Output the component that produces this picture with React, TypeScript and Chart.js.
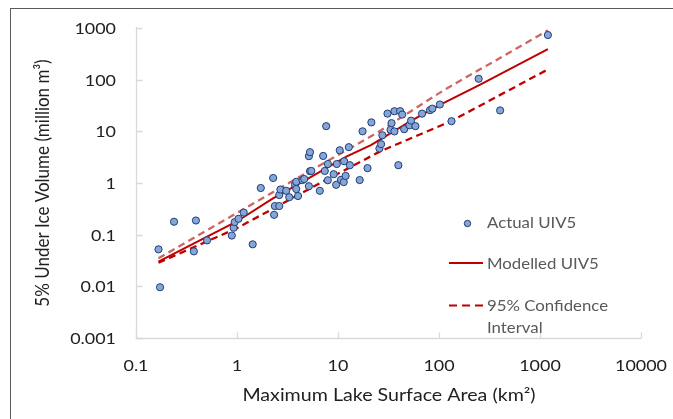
import { useEffect, useRef } from "react";
import { Chart, registerables } from "chart.js";

Chart.register(...registerables);

// ---- data ----
const areaKm2 = [
  0.167, 0.173, 0.238, 0.374, 0.392, 0.505, 0.888, 0.927, 0.949, 1.035,
  1.165, 1.43, 1.72, 2.28, 2.33, 2.37, 2.62, 2.62, 2.69, 3.07,
  3.29, 3.75, 3.86, 3.86, 4.02, 4.44, 4.63, 5.15, 5.15, 5.28,
  5.28, 5.44, 6.61, 7.13, 7.4, 7.64, 7.93, 7.94, 9.06, 9.59,
  9.73, 10.4, 10.7, 11.4, 11.5, 11.9, 12.8, 13.1, 16.4, 17.5,
  19.6, 21.4, 25.7, 26.7, 27.5, 30.9, 33.1, 33.9, 36.2, 36.2,
  39.6, 41.2, 43.2, 45.2, 51.0, 52.9, 58.4, 67.9, 81.5, 85.9,
  102, 133, 247, 403, 1197,
];
const volumeUIV5 = [
  0.052, 0.0096, 0.178, 0.0475, 0.188, 0.0776, 0.096, 0.136, 0.175, 0.203,
  0.268, 0.065, 0.8, 1.25, 0.242, 0.358, 0.358, 0.585, 0.748, 0.706,
  0.531, 0.927, 1.055, 0.765, 0.56, 1.14, 1.195, 0.867, 3.31, 3.95,
  1.69, 1.71, 0.706, 3.34, 1.71, 12.6, 1.13, 2.33, 1.48, 0.923,
  2.33, 4.3, 1.15, 1.04, 2.64, 1.37, 4.94, 2.21, 1.14, 10.0,
  1.94, 14.9, 4.66, 5.65, 8.4, 22.0, 10.7, 14.4, 24.5, 9.95,
  2.21, 24.6, 21.1, 11.0, 13.1, 16.1, 12.6, 22.0, 25.7, 27.5,
  33.1, 15.7, 104, 25.4, 731,
];

const modelX = [0.167, 0.986, 2.27, 4.18, 12.1, 21.4, 51.3, 102, 253, 1197];
const modelY = [0.03, 0.178, 0.505, 0.986, 3.24, 5.45, 15.4, 32.5, 79, 390];

const upperX = [0.167, 0.986, 4.18, 24.0, 110, 1197];
const upperY = [0.035, 0.259, 1.32, 9.18, 61.5, 900];

const lowerX = [0.167, 0.986, 2.65, 6.59, 25.9, 133, 1197];
const lowerY = [0.0286, 0.132, 0.375, 0.986, 4.05, 15.9, 158];

const xTicks = [0.1, 1, 10, 100, 1000, 10000];
const xTickLabels = ["0.1", "1", "10", "100", "1000", "10000"];
const yTicks = [0.001, 0.01, 0.1, 1, 10, 100, 1000];
const yTickLabels = ["0.001", "0.01", "0.1", "1", "10", "100", "1000"];

const xTitle = "Maximum Lake Surface Area (km\u00B2)";
const yTitle = "5% Under Ice Volume (million m\u00B3)";
const legendLabels = ["Actual UIV5", "Modelled UIV5", "95% Confidence", "Interval"];

const FONT = "Lato, 'Open Sans', sans-serif";
const POINT_FILL = "#86A6D8";
const POINT_EDGE = "#1F3F77";
const RED = "#C00000";
const LIGHT_RED = "#CF6464";
const STRETCH = 1.12;
const LEGEND_STRETCH = 1.05;

function stretchedText(ctx: any, text: string, x: number, y: number, sx: number) {
  ctx.save();
  ctx.translate(x, y);
  ctx.scale(sx, 1);
  ctx.fillText(text, 0, 0);
  ctx.restore();
}

const decorPlugin = {
  id: "decor",
  beforeDraw(chart: any) {
    const { ctx, chartArea, scales } = chart;
    const xs = scales.x;
    const ys = scales.y;
    ctx.save();
    ctx.fillStyle = "#ffffff";
    ctx.fillRect(0, 0, chart.width, chart.height);

    // outer frame
    ctx.strokeStyle = "#5a5a5a";
    ctx.lineWidth = 1;
    ctx.strokeRect(10.5, 8.5, chart.width + 20, chart.height + 20);

    // axes
    ctx.strokeStyle = "#D9D9D9";
    ctx.lineWidth = 1.3;
    const left = Math.round(chartArea.left) + 0.5;
    const bottom = Math.round(chartArea.bottom) + 0.5;
    ctx.beginPath();
    ctx.moveTo(left, ys.getPixelForValue(1000) - 1);
    ctx.lineTo(left, bottom);
    ctx.lineTo(xs.getPixelForValue(10000), bottom);
    ctx.stroke();
    ctx.beginPath();
    yTicks.forEach((v) => {
      const y = Math.round(ys.getPixelForValue(v)) + 0.5;
      ctx.moveTo(left, y);
      ctx.lineTo(left + 6, y);
    });
    xTicks.forEach((v) => {
      const x = Math.round(xs.getPixelForValue(v)) + 0.5;
      ctx.moveTo(x, bottom);
      ctx.lineTo(x, bottom - 6);
    });
    ctx.stroke();

    // tick labels
    ctx.fillStyle = "#1f1f1f";
    ctx.font = `16px ${FONT}`;
    ctx.textBaseline = "middle";
    ctx.textAlign = "right";
    yTicks.forEach((v, i) => {
      stretchedText(ctx, yTickLabels[i], 116, ys.getPixelForValue(v) + 1, STRETCH);
    });
    ctx.textAlign = "center";
    xTicks.forEach((v, i) => {
      stretchedText(ctx, xTickLabels[i], xs.getPixelForValue(v), 366, STRETCH);
    });

    // axis titles
    ctx.font = `17px ${FONT}`;
    ctx.fillStyle = "#1f1f1f";
    stretchedText(ctx, xTitle, 389, 396, 1.155);
    ctx.save();
    ctx.translate(43, 183);
    ctx.rotate(-Math.PI / 2);
    ctx.scale(1, 1.1);
    ctx.fillText(yTitle, 0, 0);
    ctx.restore();
    ctx.restore();
  },
  afterDraw(chart: any) {
    const { ctx } = chart;
    ctx.save();
    // legend
    ctx.beginPath();
    ctx.arc(467.5, 223.5, 3.2, 0, Math.PI * 2);
    ctx.fillStyle = POINT_FILL;
    ctx.fill();
    ctx.strokeStyle = POINT_EDGE;
    ctx.lineWidth = 1;
    ctx.stroke();

    ctx.strokeStyle = RED;
    ctx.lineWidth = 2;
    ctx.beginPath();
    ctx.moveTo(449, 263);
    ctx.lineTo(483, 263);
    ctx.stroke();

    ctx.setLineDash([8, 5]);
    ctx.lineWidth = 2.2;
    ctx.beginPath();
    ctx.moveTo(449, 305.5);
    ctx.lineTo(483, 305.5);
    ctx.stroke();
    ctx.setLineDash([]);

    ctx.fillStyle = "#595959";
    ctx.font = `16px ${FONT}`;
    ctx.textAlign = "left";
    ctx.textBaseline = "middle";
    stretchedText(ctx, legendLabels[0], 487, 223, LEGEND_STRETCH);
    stretchedText(ctx, legendLabels[1], 487, 264, LEGEND_STRETCH);
    stretchedText(ctx, legendLabels[2], 487, 306, LEGEND_STRETCH);
    stretchedText(ctx, legendLabels[3], 487, 328, LEGEND_STRETCH);
    ctx.restore();
  },
};

export default function App() {
  const ref = useRef<HTMLCanvasElement | null>(null);

  useEffect(() => {
    if (!ref.current) return;
    const toPts = (xa: number[], ya: number[]) => xa.map((x, i) => ({ x, y: ya[i] }));
    const chart = new Chart(ref.current, {
      type: "scatter",
      data: {
        datasets: [
          {
            label: "95% Confidence Interval (upper)",
            data: toPts(upperX, upperY),
            showLine: true,
            borderColor: LIGHT_RED,
            borderWidth: 2.3,
            borderDash: [7, 4.5],
            pointRadius: 0,
            fill: false,
            order: 3,
          },
          {
            label: "95% Confidence Interval (lower)",
            data: toPts(lowerX, lowerY),
            showLine: true,
            borderColor: RED,
            borderWidth: 2.3,
            borderDash: [7, 4.5],
            pointRadius: 0,
            fill: false,
            order: 2,
          },
          {
            label: "Modelled UIV5",
            data: toPts(modelX, modelY),
            showLine: true,
            borderColor: RED,
            borderWidth: 2,
            pointRadius: 0,
            fill: false,
            order: 1,
          },
          {
            label: "Actual UIV5",
            data: toPts(areaKm2, volumeUIV5),
            showLine: false,
            backgroundColor: POINT_FILL,
            borderColor: POINT_EDGE,
            borderWidth: 1,
            pointRadius: 3.6,
            order: 0,
          },
        ],
      },
      options: {
        animation: false,
        responsive: false,
        devicePixelRatio: 1,
        layout: { padding: { left: 136, top: 28, right: 32, bottom: 81 } },
        plugins: { legend: { display: false }, tooltip: { enabled: false } },
        scales: {
          x: { type: "logarithmic", min: 0.1, max: 10000, display: false },
          y: { type: "logarithmic", min: 0.001, max: 1000, display: false },
        },
      },
      plugins: [decorPlugin],
    });
    return () => chart.destroy();
  }, []);

  return (
    <div style={{ position: "fixed", left: 0, top: 0, width: 673, height: 419, background: "#fff" }}>
      <canvas ref={ref} width={673} height={419} style={{ display: "block" }} />
    </div>
  );
}
